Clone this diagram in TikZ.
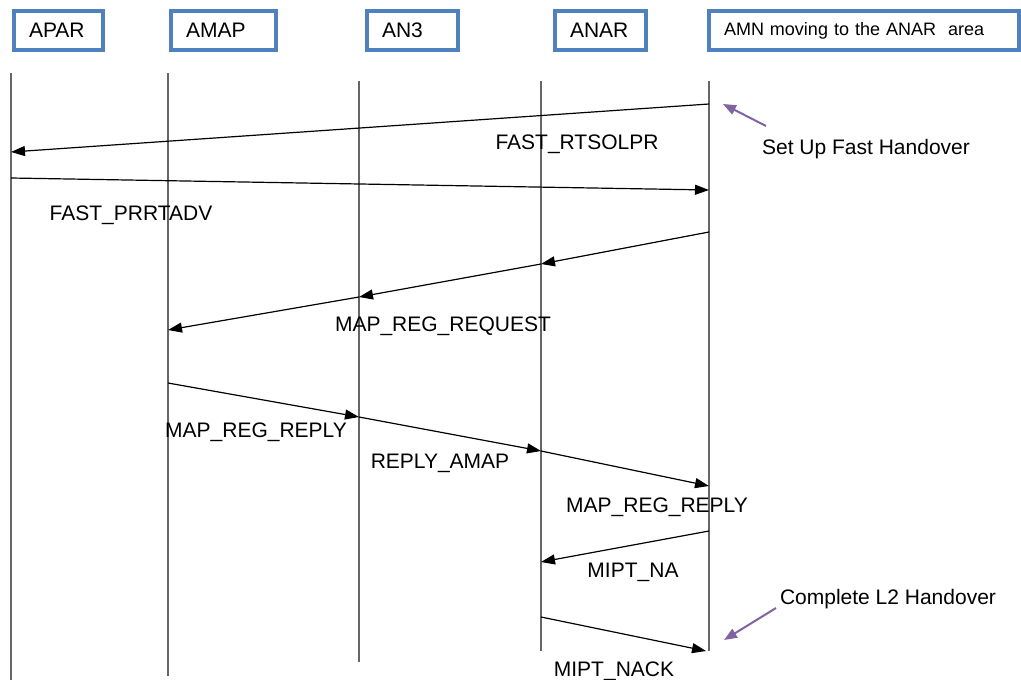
\documentclass[tikz,border=0pt]{standalone}
\usepackage{fontspec}
\setmainfont{Liberation Sans}
\usetikzlibrary{arrows.meta}

\definecolor{actor edge}{HTML}{4F81BD}
\definecolor{note edge}{HTML}{8064A2}
\colorlet{life line}{black!60}
\tikzset{
  big/.style={font=\fontsize{21}{25}\selectfont},
  small/.style={font=\fontsize{18}{22}\selectfont}
  }
\tikzstyle{actor}=[draw=actor edge, line width=4pt, inner xsep=15pt, inner ysep=0pt, minimum height=39pt, align=left, anchor=west]
\tikzstyle{lifeline}=[draw, line width=1.3pt, life line]
\tikzstyle{message}=[draw, line width=1.2pt, -{Triangle[length=14pt,width=10pt]}]
\tikzstyle{msg text}=[big, anchor=base, inner sep=0pt]
\tikzstyle{note arrow}=[draw, line width=2pt, note edge, -{Triangle[length=13pt,width=10pt]}]
\def\lifelines{11/73/680/apar, 168/73/676/amap, 359/81/662/an3, 541/81/651/anar, 709/81/651/amn}
\def\points{709/104/amn1, 11/152/apar1, 11/178/apar2, 709/190/amn2, 709/232/amn3, 541/264/anar3, 359/297/an3r, 168/330/amap3, 168/383/amap4, 359/417/an3p, 541/451/anar4, 709/486/amn4, 709/531/amn5, 541/562/anar5, 541/617/anar6, 706/651/amn6}
\def\messages{amn1/apar1, apar2/amn2, amn3/anar3, anar3/an3r, an3r/amap3, amap4/an3p, an3p/anar4, anar4/amn4, amn5/anar5, anar6/amn6}

\begin{document}
\begin{tikzpicture}[x=1pt, y=-1pt]

    \useasboundingbox (0,0) rectangle (1021,680);

    % The actors on top
    \node[actor, big, text width=59pt] (apar) at (12,30.5) {APAR};
    \node[actor, big, text width=75pt] (amap) at (169,30.5) {AMAP};
    \node[actor, big, text width=61pt] (an3) at (365,30.5) {AN3};
    \node[actor, big, text width=61pt] (anar) at (553,30.5) {ANAR};
    \node[actor, small, text width=280pt] (amn) at (707,30.5) {AMN moving to the ANAR\ \ area};

    % Their life lines
    \foreach \x/\ytop/\ybottom/\name in \lifelines {
      \coordinate (\name top) at (\x,\ytop);
      \coordinate (\name bottom) at (\x,\ybottom);
      \path[lifeline] (\name top) -- (\name bottom);
    }

    % The points where messages meet the life lines
    \foreach \x/\y/\name in \points
      \coordinate (\name) at (\x,\y);

    % The messages between them
    \foreach \source/\sink in \messages
      \path[message] (\source) -- (\sink);

    % The names of the messages
    \node[msg text] (rtsolpr) at (577,149) {FAST\_RTSOLPR};
    \node[msg text] (prrtadv) at (131,220) {FAST\_PRRTADV};
    \node[msg text] (request) at (443,331) {MAP\_REG\_REQUEST};
    \node[msg text] (reply1) at (256,437) {MAP\_REG\_REPLY};
    \node[msg text] (replyamap) at (440,468) {REPLY\_AMAP};
    \node[msg text] (reply2) at (657,512) {MAP\_REG\_REPLY};
    \node[msg text] (miptna) at (633,577) {MIPT\_NA};
    \node[msg text] (miptnack) at (614,676) {MIPT\_NACK};

    % The notes on the right
    \node[msg text] (setup) at (866,154) {Set Up Fast Handover};
    \node[msg text] (complete) at (888,604) {Complete L2 Handover};
    \coordinate (setup from) at (766,126);
    \coordinate (setup to) at (723,104);
    \coordinate (complete from) at (776,608);
    \coordinate (complete to) at (724,640);
    \path[note arrow] (setup from) -- (setup to);
    \path[note arrow] (complete from) -- (complete to);

\end{tikzpicture}
\end{document}
